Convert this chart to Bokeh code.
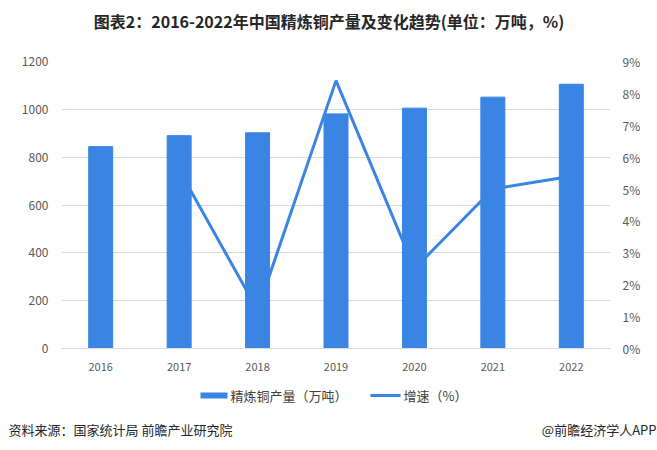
from bokeh.plotting import figure
from bokeh.models import Range1d, LinearAxis, FixedTicker
from bokeh.layouts import column
from bokeh.core.properties import value
from bokeh.embed import file_html
from bokeh.resources import INLINE

years = ["2016", "2017", "2018", "2019", "2020", "2021", "2022"]
output = [844, 890, 902, 981, 1005, 1051, 1105]
growth_years = ["2017", "2018", "2019", "2020", "2021", "2022"]
growth = [5.6, 1.2, 8.4, 2.5, 5.0, 5.4]
left_ticks = [0, 200, 400, 600, 800, 1000, 1200]
right_ticks = [0, 1, 2, 3, 4, 5, 6, 7, 8, 9]

title = "图表2：2016-2022年中国精炼铜产量及变化趋势(单位：万吨，%)"
bar_name = "精炼铜产量（万吨）"
line_name = "增速（%）"
source_text = "资料来源：国家统计局 前瞻产业研究院"
brand_text = "@前瞻经济学人APP"

BLUE = "#3A84E4"
FONT = "Noto Sans CJK SC"
W = 657


def blank(height, y0, y1):
    f = figure(width=W, height=height, x_range=Range1d(0, W), y_range=Range1d(y1, y0),
               output_backend="svg", toolbar_location=None,
               min_border=0, min_border_left=0, min_border_right=0,
               min_border_top=0, min_border_bottom=0, frame_align=False)
    f.axis.visible = False
    f.grid.visible = False
    f.outline_line_color = None
    return f


# ---- title strip (page y 0..42) ----
ft = blank(42, 0, 42)
ft.text(x=[W / 2], y=[20], text=[title], text_align="center", text_baseline="middle",
        text_font=value(FONT), text_font_style="bold", text_font_size="16px",
        text_color="#262626")

# ---- main chart (page y 42..380) ----
p = figure(x_range=years, y_range=Range1d(0, 1200), width=W, height=338,
           output_backend="svg", toolbar_location=None, frame_align=False,
           min_border_left=61, min_border_right=47, min_border_top=19, min_border_bottom=32)
p.outline_line_color = None
p.extra_y_ranges = {"pct": Range1d(0, 9)}

p.vbar(x=years, top=output, width=0.306, color=BLUE)
p.line(x=growth_years, y=growth, y_range_name="pct", line_color=BLUE, line_width=3)

p.yaxis.ticker = FixedTicker(ticks=left_ticks)
ra = LinearAxis(y_range_name="pct", ticker=FixedTicker(ticks=right_ticks),
                major_label_overrides={t: f"{t}%" for t in right_ticks})
p.add_layout(ra, "right")

for ax in [p.yaxis[0], ra, p.xaxis[0]]:
    ax.major_tick_line_color = None
    ax.minor_tick_line_color = None
    ax.major_tick_out = 0
    ax.major_tick_in = 0
    ax.minor_tick_out = 0
    ax.major_label_text_color = "#595959"
    ax.major_label_text_font = FONT
for ax in [p.yaxis[0], ra]:
    ax.axis_line_color = None
    ax.major_label_text_font_size = "12px"
p.yaxis[0].major_label_standoff = 13
ra.major_label_standoff = 12

p.xaxis.axis_line_color = "#d9d9d9"
p.xaxis.major_label_text_font_size = "11px"
p.xaxis.major_label_standoff = 14

p.xgrid.grid_line_color = None
p.ygrid.grid_line_color = "#d9d9d9"

# ---- legend + footer strip (page y 380..450) ----
fb = blank(70, 380, 450)
fb.rect(x=[213.5], y=[395], width=27, height=6, fill_color=BLUE, line_color=None)
fb.line(x=[370, 400], y=[395, 395], line_color=BLUE, line_width=3)
fb.text(x=[230, 403], y=[395, 395], text=[bar_name, line_name], text_baseline="middle",
        text_font=value(FONT), text_font_size="13px", text_color="#404040")
fb.text(x=[8], y=[429], text=[source_text], text_baseline="middle",
        text_font=value(FONT), text_font_size="13px", text_color="#262626")
fb.text(x=[656], y=[429], text=[brand_text], text_align="right", text_baseline="middle",
        text_font=value(FONT), text_font_size="13px", text_color="#262626")

layout = column(ft, p, fb, spacing=0)
open("out.html", "w").write(file_html(layout, INLINE))
